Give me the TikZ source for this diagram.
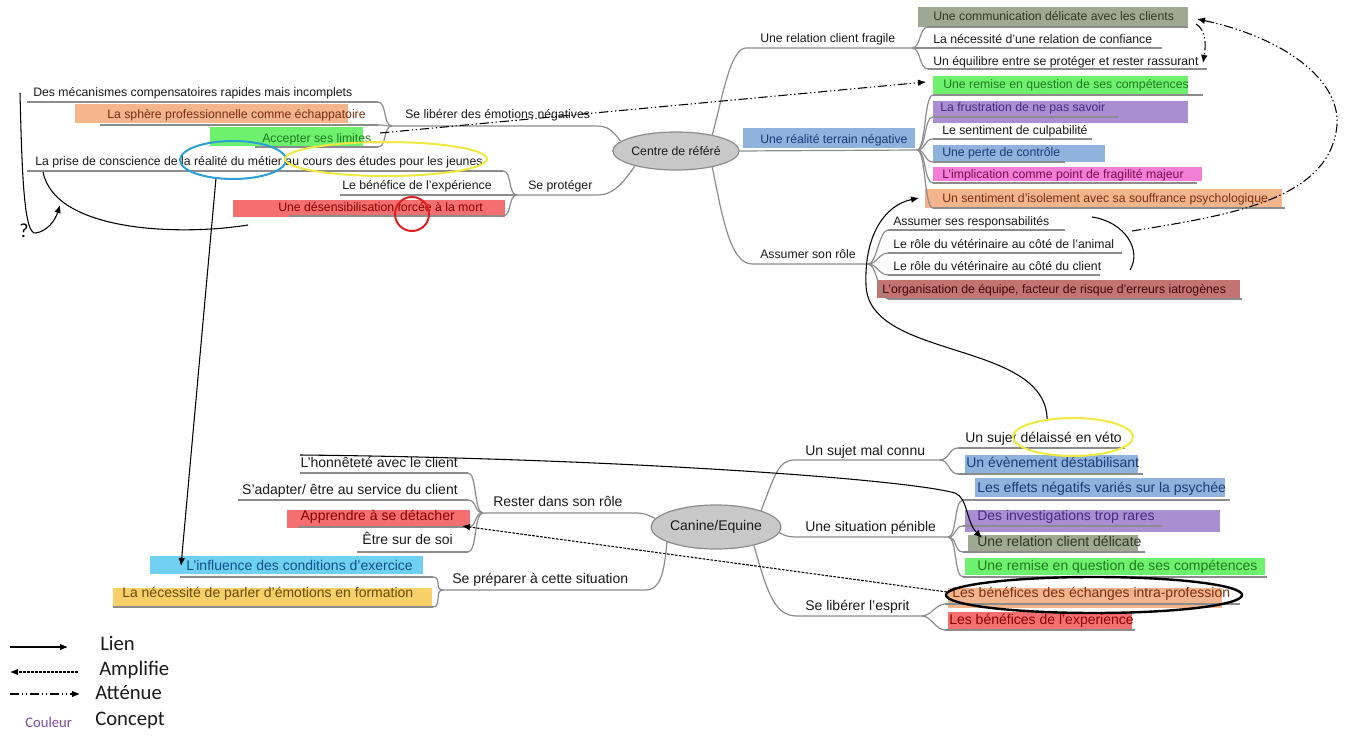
\documentclass[tikz,border=0pt]{standalone}
\usepackage{fontspec}
\setmainfont{Liberation Sans}
\newfontfamily\calib{Carlito}
\usetikzlibrary{arrows.meta,shapes.geometric}
\definecolor{gline}{HTML}{8C8C8C}
\definecolor{txt}{HTML}{1A1A1A}
\definecolor{ellf}{HTML}{C8C8C8}
\definecolor{cGG}{HTML}{9DA993}
\definecolor{cLG}{HTML}{6EF26E}
\definecolor{cPU}{HTML}{A98FD2}
\definecolor{cBL}{HTML}{8FB3DC}
\definecolor{cPK}{HTML}{F27FD5}
\definecolor{cOR}{HTML}{F4B48C}
\definecolor{cDR}{HTML}{C47373}
\definecolor{cRD}{HTML}{F47070}
\definecolor{cCY}{HTML}{6FD0F2}
\definecolor{cYE}{HTML}{F7D06A}
\definecolor{tGG}{HTML}{2E3A25}
\definecolor{tLG}{HTML}{1F7A1F}
\definecolor{tPU}{HTML}{4A2A80}
\definecolor{tBL}{HTML}{1A3A7A}
\definecolor{tPK}{HTML}{800A50}
\definecolor{tOR}{HTML}{7A3010}
\definecolor{tDR}{HTML}{400808}
\definecolor{tRD}{HTML}{8A0000}
\definecolor{tCY}{HTML}{10508A}
\definecolor{tYE}{HTML}{6A4A00}
\definecolor{aBL}{HTML}{2AA0D8}
\definecolor{aYE}{HTML}{F0EA40}
\definecolor{aRD}{HTML}{E02020}
\definecolor{legP}{HTML}{7A4AA0}
\newcommand\mkline[4]{\coordinate (#1s) at (#2,#4); \coordinate (#1e) at (#3,#4); \draw[br] (#1s) -- (#1e);}
\newcommand\brR[2]{\draw[br] (#1) .. controls +(9,0) and +(-9,0) .. (#2);}
\newcommand\brL[2]{\draw[br] (#1) .. controls +(-9,0) and +(9,0) .. (#2);}
\begin{document}
\begin{tikzpicture}[x=0.75pt,y=-0.75pt,
  br/.style={draw=gline, line width=0.9pt},
  tt/.style={inner sep=0pt, text height=0.72em, text depth=0.2em, text=txt},
  ft/.style={font=\fontsize{9.2}{11}\selectfont},
  fb/.style={font=\fontsize{10.5}{12}\selectfont},
  ell/.style={ellipse, draw=gline, fill=ellf, line width=0.9pt, inner sep=0pt, text=txt},
  ann/.style={ellipse, line width=1.5pt, inner sep=0pt},
  plain/.style={draw=black, line width=0.8pt},
  lien/.style={draw=black, line width=0.8pt, -{Latex[length=6pt,width=5pt]}},
  ampl/.style={draw=black, line width=0.8pt, dash pattern=on 2pt off 1pt, -{Latex[length=6pt,width=5pt]}},
  atten/.style={draw=black, line width=0.8pt, dash pattern=on 7pt off 2pt on 1pt off 2pt on 1pt off 2pt, -{Latex[length=6pt,width=5pt]}}]
\useasboundingbox (0,0) rectangle (1351,737);
\fill[white] (0,0) rectangle (1351,737);

% ---------- highlight boxes ----------
\fill[cGG] (918,7) rectangle (1188,27);
\fill[cLG] (933,76) rectangle (1188,95);
\fill[cPU] (933,101) rectangle (1188,123);
\fill[cBL] (933,145) rectangle (1105,162);
\fill[cPK] (933,167) rectangle (1202,181);
\fill[cOR] (925,189) rectangle (1282,208);
\fill[cBL] (743,128) rectangle (915,148);
\fill[cDR] (877,280) rectangle (1240,298);
\fill[cOR] (75,104) rectangle (348,123);
\fill[cLG] (210,127) rectangle (363,146);
\fill[cRD] (233,200) rectangle (505,217);
\fill[cBL] (965,455) rectangle (1138,473);
\fill[cBL] (975,478) rectangle (1225,497);
\fill[cPU] (965,510) rectangle (1220,532);
\fill[cGG] (968,535) rectangle (1138,551);
\fill[cLG] (965,558) rectangle (1265,575);
\fill[cOR] (948,588) rectangle (1222,608);
\fill[cRD] (948,612) rectangle (1132,630);
\fill[cRD] (287,510) rectangle (470,528);
\fill[cCY] (150,556) rectangle (423,574);
\fill[cYE] (113,588) rectangle (432,606);

% ---------- central nodes ----------
\node[ell, ft, minimum width=84pt, minimum height=28.5pt] (cr) at (676,151) {Centre de référé};
\node[ell, fb, minimum width=88.5pt, minimum height=33pt] (ce) at (716,527) {Canine/Equine};

% ---------- top branches ----------
\coordinate (Ae) at (912,48);
\draw[br] (cr.24) .. controls (722,100) and (730,48) .. (746,48) -- (Ae);
\coordinate (Be) at (917,150);
\draw[br] (cr.east) -- (Be);
\coordinate (Ce) at (868,264);
\draw[br] (cr.336) .. controls (722,215) and (730,264) .. (752,264) -- (Ce);
\coordinate (De) at (392,126);
\draw[br] (cr.170) .. controls (612,130) and (608,126) .. (596,126) -- (De);
\coordinate (Ee) at (517,195);
\draw[br] (cr.200) .. controls (622,185) and (612,195) .. (598,195) -- (Ee);

\mkline{a1}{928}{1188}{27}
\mkline{a2}{912}{1162}{48}
\mkline{a3}{928}{1207}{69}
\brR{Ae}{a1s} \brR{Ae}{a3s}

\mkline{b1}{933}{1203}{95}
\mkline{b2}{933}{1118}{117}
\mkline{b3}{933}{1092}{139}
\mkline{b4}{933}{1065}{162}
\mkline{b5}{933}{1197}{183}
\mkline{b6}{933}{1285}{208}
\brR{Be}{b1s} \brR{Be}{b2s} \brR{Be}{b3s} \brR{Be}{b4s} \brR{Be}{b5s} \brR{Be}{b6s}

\mkline{c1}{888}{1065}{230}
\mkline{c2}{888}{1122}{253}
\mkline{c3}{888}{1100}{275}
\mkline{c4}{888}{1242}{299}
\brR{Ce}{c1s} \brR{Ce}{c2s} \brR{Ce}{c3s} \brR{Ce}{c4s}

\mkline{d1}{27}{378}{102}
\mkline{d2}{100}{378}{125}
\mkline{d3}{255}{378}{147}
\brL{De}{d1e} \brL{De}{d2e} \brL{De}{d3e}

\mkline{e1}{27}{503}{171}
\mkline{e2}{340}{503}{195}
\mkline{e3}{290}{503}{216}
\brL{Ee}{e1e} \brL{Ee}{e2e} \brL{Ee}{e3e}

% ---------- bottom branches ----------
\coordinate (Fe) at (940,460);
\draw[br] (ce.20) .. controls (775,475) and (778,460) .. (795,460) -- (Fe);
\coordinate (Ge) at (948,537);
\draw[br] (ce.355) .. controls (785,536) and (788,537) .. (798,537) -- (Ge);
\coordinate (He) at (922,616);
\draw[br] (ce.334) .. controls (768,595) and (775,616) .. (797,616) -- (He);
\coordinate (Ie) at (483,513);
\draw[br] (ce.172) .. controls (648,515) and (645,513) .. (635,513) -- (Ie);
\coordinate (Je) at (443,590);
\draw[br] (ce.197) .. controls (664,575) and (660,590) .. (645,590) -- (Je);

\mkline{f1}{958}{1125}{448}
\mkline{f2}{958}{1143}{474}
\brR{Fe}{f1s} \brR{Fe}{f2s}

\mkline{g1}{963}{1230}{500}
\mkline{g2}{963}{1163}{526}
\mkline{g3}{963}{1145}{552}
\mkline{g4}{963}{1267}{577}
\brR{Ge}{g1s} \brR{Ge}{g2s} \brR{Ge}{g3s} \brR{Ge}{g4s}

\mkline{h1}{945}{1240}{604}
\mkline{h2}{945}{1135}{630}
\brR{He}{h1s} \brR{He}{h2s}

\mkline{i1}{300}{468}{473}
\mkline{i2}{238}{468}{500}
\mkline{i3}{298}{468}{527}
\mkline{i4}{357}{468}{552}
\brL{Ie}{i1e} \brL{Ie}{i2e} \brL{Ie}{i3e} \brL{Ie}{i4e}

\mkline{j1}{180}{433}{577}
\mkline{j2}{113}{433}{607}
\brL{Je}{j1e} \brL{Je}{j2e}

% ---------- texts: top ----------
\node[tt,ft,anchor=west] (tA) at (760,39) {Une relation client fragile};
\node[tt,ft,anchor=west,text=tBL] (tB) at (760,140) {Une réalité terrain négative};
\node[tt,ft,anchor=west] (tC) at (760,255) {Assumer son rôle};
\node[tt,ft,anchor=west] (tD) at (405,115) {Se libérer des émotions négatives};
\node[tt,ft,anchor=west] (tE) at (528,186) {Se protéger};

\node[tt,ft,anchor=west,text=tGG] (na1) at (933,17) {Une communication délicate avec les clients};
\node[tt,ft,anchor=west] (na2) at (933,40) {La nécessité d'une relation de confiance};
\node[tt,ft,anchor=west] (na3) at (933,62) {Un équilibre entre se protéger et rester rassurant};
\node[tt,ft,anchor=west,text=tLG] (nb1) at (943,85) {Une remise en question de ses compétences};
\node[tt,ft,anchor=west,text=tPU] (nb2) at (940,108) {La frustration de ne pas savoir};
\node[tt,ft,anchor=west] (nb3) at (942,131) {Le sentiment de culpabilité};
\node[tt,ft,anchor=west,text=tBL] (nb4) at (942,153) {Une perte de contrôle};
\node[tt,ft,anchor=west,text=tPK] (nb5) at (942,175) {L'implication comme point de fragilité majeur};
\node[tt,ft,anchor=west,text=tOR] (nb6) at (942,199) {Un sentiment d'isolement avec sa souffrance psychologique};
\node[tt,ft,anchor=west] (nc1) at (893,222) {Assumer ses responsabilités};
\node[tt,ft,anchor=west] (nc2) at (893,245) {Le rôle du vétérinaire au côté de l'animal};
\node[tt,ft,anchor=west] (nc3) at (893,267) {Le rôle du vétérinaire au côté du client};
\node[tt,ft,anchor=west,text=tDR] (nc4) at (882,290) {L'organisation de équipe, facteur de risque d'erreurs iatrogènes};
\node[tt,ft,anchor=west] (nd1) at (33,93) {Des mécanismes compensatoires rapides mais incomplets};
\node[tt,ft,anchor=west,text=tOR] (nd2) at (107,115) {La sphère professionnelle comme échappatoire};
\node[tt,ft,anchor=west,text=tLG] (nd3) at (262,139) {Accepter ses limites};
\node[tt,ft,anchor=west] (ne1) at (35,162) {La prise de conscience de la réalité du métier au cours des études pour les jeunes};
\node[tt,ft,anchor=west] (ne2) at (342,186) {Le bénéfice de l'expérience};
\node[tt,ft,anchor=west,text=tRD] (ne3) at (278,208) {Une désensibilisation forcée à la mort};

% ---------- texts: bottom ----------
\node[tt,fb,anchor=west] (tF) at (805,452) {Un sujet mal connu};
\node[tt,fb,anchor=west] (tG) at (805,528) {Une situation pénible};
\node[tt,fb,anchor=west] (tH) at (805,607) {Se libérer l'esprit};
\node[tt,fb,anchor=west] (tI) at (493,503) {Rester dans son rôle};
\node[tt,fb,anchor=west] (tJ) at (452,580) {Se préparer à cette situation};

\node[tt,fb,anchor=west] (nf1) at (965,439) {Un sujet délaissé en véto};
\node[tt,fb,anchor=west,text=tBL] (nf2) at (966,464) {Un évènement déstabilisant};
\node[tt,fb,anchor=west,text=tBL] (ng1) at (977,489) {Les effets négatifs variés sur la psychée};
\node[tt,fb,anchor=west,text=tPU] (ng2) at (977,517) {Des investigations trop rares};
\node[tt,fb,anchor=west,text=tGG] (ng3) at (977,543) {Une relation client délicate};
\node[tt,fb,anchor=west,text=tLG] (ng4) at (977,567) {Une remise en question de ses compétences};
\node[tt,fb,anchor=west,text=tOR] (nh1) at (952,594) {Les bénéfices des échanges intra-profession};
\node[tt,fb,anchor=west,text=tRD] (nh2) at (949,621) {Les bénéfices de l'experience};
\node[tt,fb,anchor=east] (ni1) at (458,464) {L'honnêteté avec le client};
\node[tt,fb,anchor=east] (ni2) at (458,491) {S'adapter/ être au service du client};
\node[tt,fb,anchor=east,text=tRD] (ni3) at (455,517) {Apprendre à se détacher};
\node[tt,fb,anchor=east] (ni4) at (453,541) {Être sur de soi};
\node[tt,fb,anchor=east,text=tCY] (nj1) at (413,567) {L'influence des conditions d'exercice};
\node[tt,fb,anchor=west,text=tYE] (nj2) at (122,594) {La nécessité de parler d'émotions en formation};

% ---------- annotation ellipses ----------
\node[ann, draw=aBL, minimum width=79.5pt, minimum height=28.5pt] (oBL) at (233,160) {};
\node[ann, draw=aYE, minimum width=151.5pt, minimum height=25.5pt] (oYE) at (386,159) {};
\node[ann, draw=aRD, minimum width=25.5pt, minimum height=25.5pt] (oRD) at (412,214) {};
\node[ann, draw=aYE, minimum width=90pt, minimum height=28.5pt] (oYE2) at (1073,437) {};
\node[ann, draw=black, line width=1.8pt, minimum width=222pt, minimum height=27pt] (oBK) at (1094,595) {};

% ---------- relation connectors ----------
\coordinate (x1) at (380,133); \coordinate (x2) at (926,82);
\draw[atten] (x1) -- (x2);
\coordinate (y1) at (1132,231); \coordinate (y2) at (1197,19);
\draw[atten] (y1) .. controls (1230,215) and (1330,200) .. (1337,125) .. controls (1340,80) and (1285,38) .. (y2);
\coordinate (z1) at (1196,24); \coordinate (z2) at (1203,63);
\draw[atten] (z1) .. controls (1206,30) and (1206,45) .. (z2);

\coordinate (isoIn) at (919,198);
\draw[lien] (oYE2.145) .. controls (1045,340) and (868,360) .. (866,285) .. controls (864,235) and (885,205) .. (isoIn);
\coordinate (k1) at (1092,217); \coordinate (k2) at (1130,270);
\draw[plain] (k1) .. controls (1125,222) and (1142,250) .. (k2);

\coordinate (infl) at (181,566);
\draw[lien] (oBL.228) -- (infl);

\coordinate (q1) at (20,93); \coordinate (q2) at (60,205);
\draw[lien] (q1) .. controls (22,175) and (24,236) .. (36,233) .. controls (47,231) and (55,221) .. (q2);
\coordinate (p1) at (43,172); \coordinate (p2) at (248,225);
\draw[plain] (p1) .. controls (55,232) and (180,236) .. (p2);
\node[inner sep=0pt, font=\calib\fontsize{15}{17}\selectfont] (qm) at (24,231) {?};

\coordinate (l1) at (300,455); \coordinate (l2) at (982,538);
\draw[lien] (l1) .. controls (600,458) and (900,478) .. (955,493) .. controls (968,498) and (966,522) .. (l2);
\coordinate (m1) at (947,592); \coordinate (m2) at (462,526);
\draw[ampl] (m1) -- (m2);

% ---------- legend ----------
\coordinate (L1a) at (10,647); \coordinate (L1b) at (68,647);
\draw[lien] (L1a) -- (L1b);
\node[tt, anchor=west, font=\calib\fontsize{15.5}{18}\selectfont] (lg1) at (100,647) {Lien};
\coordinate (L2a) at (78,672); \coordinate (L2b) at (10,672);
\draw[ampl] (L2a) -- (L2b);
\node[tt, anchor=west, font=\calib\fontsize{15.5}{18}\selectfont] (lg2) at (99,672) {Amplifie};
\coordinate (L3a) at (10,694); \coordinate (L3b) at (80,694);
\draw[atten] (L3a) -- (L3b);
\node[tt, anchor=west, font=\calib\fontsize{15.5}{18}\selectfont] (lg3) at (95,696) {Atténue};
\node[tt, anchor=west, text=legP, font=\calib\fontsize{11}{13}\selectfont] (lg4) at (25,724) {Couleur};
\node[tt, anchor=west, font=\calib\fontsize{15.5}{18}\selectfont] (lg5) at (95,722) {Concept};
\end{tikzpicture}
\end{document}
